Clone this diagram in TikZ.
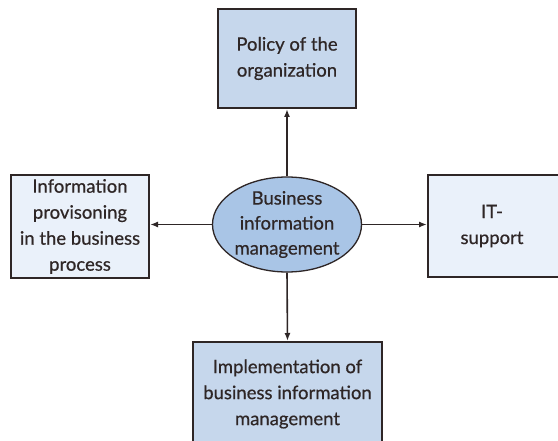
\documentclass[tikz,border=0pt]{standalone}
\usepackage{fontspec}
\setmainfont{Lato}
\newfontfamily\labfont{Lato}[FakeBold=0.6]
\usetikzlibrary{shapes.geometric,arrows.meta}
\definecolor{boxdark}{HTML}{C6D7EC}
\definecolor{boxlight}{HTML}{EAF1FA}
\definecolor{ellfill}{HTML}{A9C5E6}
\definecolor{edge}{HTML}{2E2626}
\tikzset{
  box/.style={draw=edge, line width=2bp, align=center, inner sep=0pt, text=edge,
    font=\labfont\fontsize{18.5bp}{26bp}\selectfont},
  ellnode/.style={ellipse, draw=edge, line width=1.3bp, fill=ellfill, align=center,
    inner sep=0pt, minimum width=149bp, minimum height=95bp, text=edge,
    font=\labfont\fontsize{18.5bp}{25bp}\selectfont},
  conn/.style={draw=edge, line width=1.6bp, -{Latex[length=8bp,width=6bp]}}
}
\begin{document}
\begin{tikzpicture}[x=1bp,y=-1bp]
\useasboundingbox (0,0) rectangle (558,441);
\clip (0,0) rectangle (558,441);
\fill[white] (0,0) rectangle (558,441);
\node[box, fill=boxdark, minimum width=138bp, minimum height=99bp] (top) at (287,58.5) {Policy of the\\organization};
\node[box, fill=boxlight, minimum width=138bp, minimum height=103bp] (left) at (80,226.5) {Information\\provisoning\\in the business\\process};
\node[box, fill=boxlight, minimum width=140bp, minimum height=102bp] (right) at (498,226) {\hspace*{-12bp}IT-\\\hspace*{-12bp}support};
\node[box, fill=boxdark, minimum width=189bp, minimum height=104bp] (bottom) at (287.5,394) {Implementation of\\business information\\management};
\node[ellnode] (c) at (287,224.5) {Business\\information\\management};
\draw[conn] (c.north) -- (top.south);
\draw[conn] (c.west) -- (c.west -| left.east);
\draw[conn] (c.east) -- (c.east -| right.west);
\draw[conn] (c.south) -- (bottom.north);
\end{tikzpicture}
\end{document}
